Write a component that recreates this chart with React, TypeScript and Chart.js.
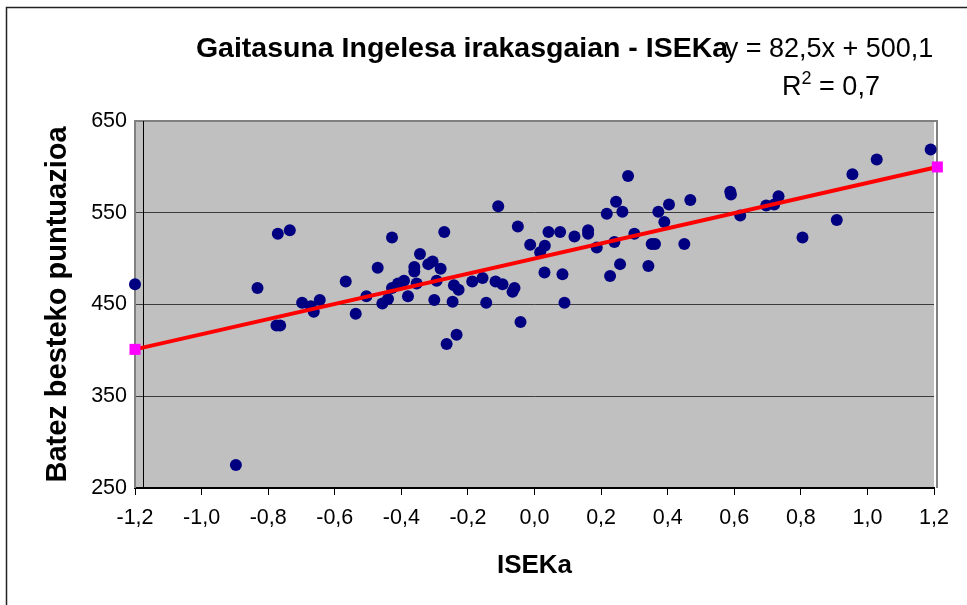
import React, { useEffect, useRef } from "react";
import { Chart, registerables } from "chart.js";

Chart.register(...registerables);

// ---- data ----
const isekaX = [
  -1.2, -0.897, -0.832, -0.771, -0.735, -0.775, -0.764, -0.698, -0.672, -0.663,
  -0.645, -0.567, -0.537, -0.505, -0.471, -0.457, -0.44, -0.428, -0.428, -0.41,
  -0.392, -0.38, -0.361, -0.361, -0.354, -0.344, -0.319, -0.306, -0.301, -0.294,
  -0.282, -0.271, -0.264, -0.246, -0.242, -0.234, -0.228, -0.187, -0.156, -0.145,
  -0.117, -0.109, -0.096, -0.066, -0.06, -0.05, -0.042, -0.013, 0.017, 0.03,
  0.031, 0.042, 0.077, 0.084, 0.09, 0.12, 0.161, 0.161, 0.187, 0.217,
  0.227, 0.24, 0.245, 0.257, 0.264, 0.281, 0.3, 0.342, 0.352, 0.362,
  0.372, 0.39, 0.404, 0.45, 0.468, 0.588, 0.59, 0.618, 0.696, 0.72,
  0.733, 0.805, 0.908, 0.955, 1.028, 1.19,
];
const scoreY = [
  472, 275, 468, 527, 531, 427, 427, 452, 448, 442,
  455, 475, 440, 459, 490, 451, 456, 468, 523, 473,
  476, 459, 491, 486, 473, 505, 494, 497, 455, 476,
  489, 529, 407, 453, 471, 417, 466, 475, 479, 452,
  475, 557, 472, 464, 468, 535, 431, 515, 507, 485,
  514, 529, 529, 483, 452, 524, 531, 527, 512, 549,
  481, 518, 562, 494, 551, 590, 527, 492, 516, 516,
  551, 540, 559, 516, 564, 573, 570, 547, 558, 559,
  568, 523, 542, 592, 608, 619,
];
const trendX = [-1.2, 1.21];
const trendY = [401.1, 599.9];
const xTicks = [-1.2, -1.0, -0.8, -0.6, -0.4, -0.2, 0.0, 0.2, 0.4, 0.6, 0.8, 1.0, 1.2];
const yTicks = [250, 350, 450, 550, 650];
const yAxisCrossX = -1.176;

const chartTitle = "Gaitasuna Ingelesa irakasgaian - ISEKa";
const equationText = "y = 82,5x + 500,1";
const r2Base = "R";
const r2Sup = "2";
const r2Rest = " = 0,7";
const xAxisTitle = "ISEKa";
const yAxisTitle = "Batez besteko puntuazioa";

const FAMILY = '"Liberation Sans", Arial, sans-serif';

const decorPlugin = {
  id: "decor",
  beforeDraw(chart: any) {
    const { ctx, chartArea: a } = chart;
    ctx.save();
    ctx.fillStyle = "#C0C0C0";
    ctx.fillRect(a.left, a.top, a.right - a.left, a.bottom - a.top);
    ctx.strokeStyle = "#222";
    ctx.lineWidth = 1.5;
    ctx.beginPath();
    ctx.moveTo(6.5, 605);
    ctx.lineTo(6.5, 7.5);
    ctx.lineTo(967, 7.5);
    ctx.stroke();
    ctx.restore();
  },
  beforeDatasetsDraw(chart: any) {
    const { ctx, chartArea: a } = chart;
    ctx.save();
    ctx.strokeStyle = "#808080";
    ctx.lineWidth = 2;
    ctx.beginPath();
    ctx.moveTo(a.left, a.bottom);
    ctx.lineTo(a.left, a.top);
    ctx.lineTo(a.right + 3, a.top);
    ctx.lineTo(a.right + 3, a.bottom);
    ctx.stroke();
    const xc = Math.round(chart.scales.x.getPixelForValue(yAxisCrossX)) + 0.5;
    ctx.strokeStyle = "#000";
    ctx.lineWidth = 1;
    ctx.beginPath();
    ctx.moveTo(xc, a.top);
    ctx.lineTo(xc, a.bottom);
    ctx.stroke();
    ctx.restore();
  },
  afterDraw(chart: any) {
    const { ctx } = chart;
    ctx.save();
    ctx.fillStyle = "#000";
    ctx.textBaseline = "alphabetic";
    ctx.textAlign = "center";
    ctx.font = `bold 28.5px ${FAMILY}`;
    ctx.fillText(chartTitle, 462, 57);
    ctx.font = `27px ${FAMILY}`;
    ctx.fillText(equationText, 829, 57);
    // R² line with a true superscript
    ctx.textAlign = "left";
    const big = `27px ${FAMILY}`;
    const small = `18px ${FAMILY}`;
    ctx.font = big;
    const wR = ctx.measureText(r2Base).width;
    const wRest = ctx.measureText(r2Rest).width;
    ctx.font = small;
    const wS = ctx.measureText(r2Sup).width;
    const x0 = 831 - (wR + wS + wRest) / 2;
    ctx.font = big;
    ctx.fillText(r2Base, x0, 95);
    ctx.font = small;
    ctx.fillText(r2Sup, x0 + wR, 84);
    ctx.font = big;
    ctx.fillText(r2Rest, x0 + wR + wS, 95);
    ctx.restore();
  },
};

export default function App() {
  const ref = useRef<HTMLCanvasElement | null>(null);
  useEffect(() => {
    if (!ref.current) return;
    const chart = new Chart(ref.current, {
      type: "scatter",
      data: {
        datasets: [
          {
            type: "line",
            label: "trend",
            data: trendX.map((x, i) => ({ x, y: trendY[i] })),
            borderColor: "#FF0000",
            borderWidth: 4,
            pointStyle: "rect",
            pointRadius: 7.8,
            pointBackgroundColor: "#FF00FF",
            pointBorderWidth: 0,
            fill: false,
            clip: false as any,
            order: 0,
          },
          {
            label: "data",
            data: isekaX.map((x, i) => ({ x, y: scoreY[i] })),
            backgroundColor: "#000080",
            borderColor: "#000080",
            borderWidth: 0,
            pointRadius: 6,
            clip: false as any,
            order: 1,
          },
        ],
      },
      options: {
        animation: false,
        responsive: false,
        events: [],
        layout: { padding: { left: 0, top: 121, right: 33, bottom: 0 } },
        plugins: { legend: { display: false }, tooltip: { enabled: false }, title: { display: false } },
        scales: {
          x: {
            type: "linear",
            min: -1.2,
            max: 1.2,
            afterBuildTicks: (s: any) => {
              s.ticks = xTicks.map((v) => ({ value: v }));
            },
            afterFit: (s: any) => {
              s.height = 117;
            },
            ticks: {
              callback: (v: any) => Number(v).toFixed(1).replace(".", ","),
              font: { family: FAMILY, size: 21.5 },
              color: "#000",
              padding: 10,
              maxRotation: 0,
              autoSkip: false,
            },
            grid: { drawOnChartArea: false, drawTicks: true, tickLength: 7, color: "#000", tickColor: "#000" },
            border: { display: true, color: "#000", width: 2 },
            title: {
              display: true,
              text: xAxisTitle,
              color: "#000",
              font: { family: FAMILY, size: 26, weight: "bold" },
              padding: { top: 0, bottom: 24 },
            },
          },
          y: {
            type: "linear",
            min: 250,
            max: 650,
            afterBuildTicks: (s: any) => {
              s.ticks = yTicks.map((v) => ({ value: v }));
            },
            afterFit: (s: any) => {
              s.width = 135;
            },
            ticks: {
              font: { family: FAMILY, size: 21.5 },
              color: "#000",
              padding: 8,
            },
            grid: { drawTicks: false, color: "#3c3c3c", lineWidth: 1 },
            border: { display: false },
            title: {
              display: true,
              text: yAxisTitle,
              color: "#000",
              font: { family: FAMILY, size: 29, weight: "bold" },
              padding: { top: 41, bottom: 0 },
            },
          },
        },
      },
      plugins: [decorPlugin],
    } as any);
    return () => chart.destroy();
  }, []);
  return (
    <div style={{ position: "fixed", left: 0, top: 0, width: 967, height: 605, background: "#fff" }}>
      <canvas ref={ref} width={967} height={605} style={{ display: "block", width: 967, height: 605 }} />
    </div>
  );
}
